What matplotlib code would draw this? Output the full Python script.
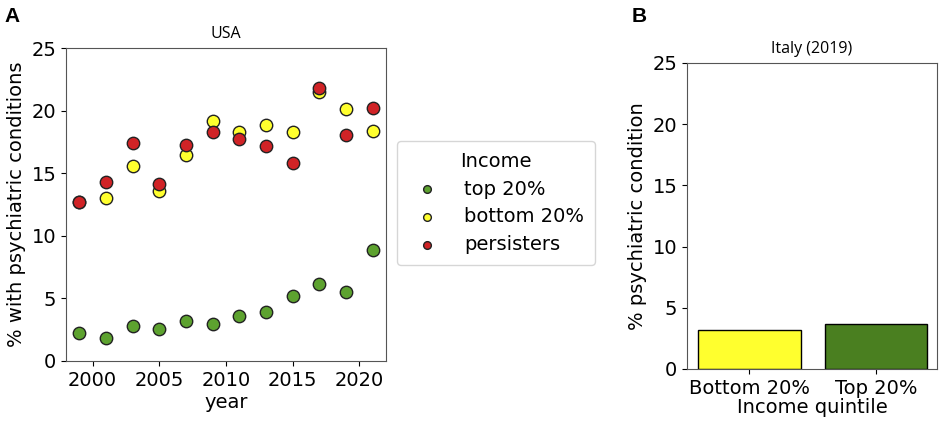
import matplotlib.pyplot as plt

# data
years = [1999, 2001, 2003, 2005, 2007, 2009, 2011, 2013, 2015, 2017, 2019, 2021]
top20 = [2.27, 1.84, 2.83, 2.56, 3.2, 2.93, 3.57, 3.92, 5.2, 6.13, 5.49, 8.83]
bottom20 = [12.67, 13.04, 15.6, 13.6, 16.43, 19.2, 18.27, 18.83, 18.29, 21.49, 20.13, 18.4]
persisters = [12.67, 14.32, 17.44, 14.16, 17.28, 18.27, 17.71, 17.17, 15.79, 21.79, 18.08, 20.21]

italy_groups = ["Bottom 20%", "Top 20%"]
italy_values = [3.16, 3.71]

GREEN = "#5da22f"
YELLOW = "#ffff2e"
RED = "#d02326"
DARK_GREEN = "#4a7f20"

plt.rcParams['font.family'] = ['DejaVu Sans']

fig = plt.figure(figsize=(9.43, 4.26), dpi=100)

# Panel A
ax1 = fig.add_axes([66 / 943, 1 - 361 / 426, 320 / 943, 313 / 426])
ax1.scatter(years, top20, s=80, c=GREEN, edgecolors="#222222", linewidths=1, label="top 20%", zorder=3)
ax1.scatter(years, bottom20, s=80, c=YELLOW, edgecolors="#222222", linewidths=1, label="bottom 20%", zorder=3)
ax1.scatter(years, persisters, s=80, c=RED, edgecolors="#222222", linewidths=1, label="persisters", zorder=4)
ax1.set_ylim(0, 25)
ax1.set_xlim(1998.0, 2022.0)
ax1.set_xticks([2000, 2005, 2010, 2015, 2020])
ax1.set_yticks([0, 5, 10, 15, 20, 25])
ax1.tick_params(labelsize=14)
ax1.set_xlabel("year", fontsize=14, labelpad=2)
ax1.set_ylabel("% with psychiatric conditions", fontsize=14, labelpad=4)
ax1.set_title("USA", fontsize=11.5, family="Open Sans", pad=7)
for sp in ax1.spines.values():
    sp.set_color("#555555")

leg = ax1.legend(title="Income", fontsize=14, title_fontsize=14, markerscale=0.62,
                 loc="center left", bbox_to_anchor=(1.034, 0.505), borderaxespad=0,
                 frameon=True, handletextpad=0.9, borderpad=0.55, labelspacing=0.45)
leg.get_frame().set_edgecolor("#cccccc")

# Panel B
ax2 = fig.add_axes([687 / 943, 1 - 369 / 426, 250 / 943, 306 / 426])
ax2.bar(italy_groups, italy_values, width=0.81, color=[YELLOW, DARK_GREEN],
        edgecolor="black", linewidth=1)
ax2.set_ylim(0, 25)
ax2.set_yticks([0, 5, 10, 15, 20, 25])
ax2.set_xlim(-0.49, 1.48)
ax2.tick_params(labelsize=14)
ax2.set_xlabel("Income quintile", fontsize=14, labelpad=0)
ax2.set_ylabel("% psychiatric condition", fontsize=14, labelpad=4)
ax2.set_title("Italy (2019)", fontsize=11.5, family="Open Sans", pad=7)
for sp in ax2.spines.values():
    sp.set_color("#555555")

fig.text(4 / 943, 1 - 22 / 426, "A", fontsize=15, fontweight="bold", family="Liberation Sans")
fig.text(632 / 943, 1 - 22 / 426, "B", fontsize=15, fontweight="bold", family="Liberation Sans")

fig.savefig("out.png", dpi=100)
